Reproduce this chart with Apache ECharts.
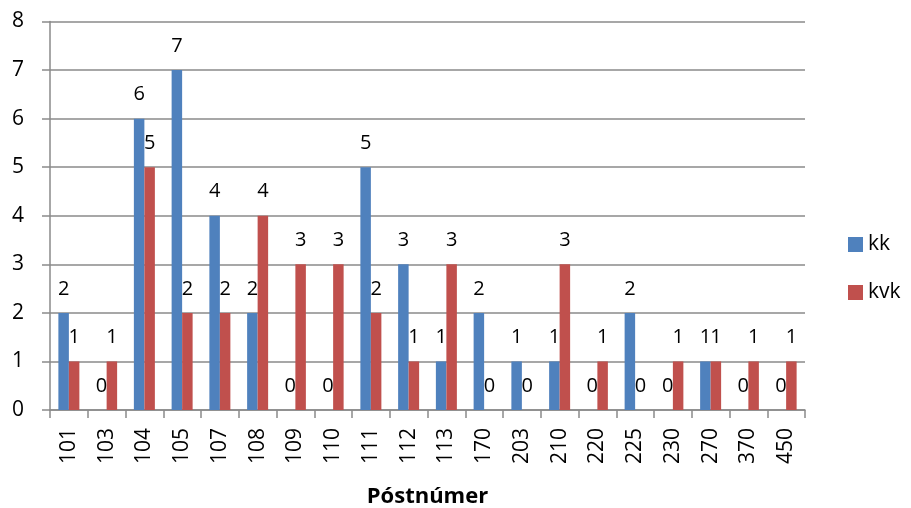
<!DOCTYPE html>
<html>
<head>
<meta charset="utf-8">
<script src="https://cdn.jsdelivr.net/npm/echarts@6/dist/echarts.min.js"></script>
<style>html,body{margin:0;padding:0;background:#fff}#c{width:911px;height:508px}</style>
</head>
<body>
<div id="c"></div>
<script>
var categories = ['101','103','104','105','107','108','109','110','111','112','113','170','203','210','220','225','230','270','370','450'];
var kk  = [2,0,6,7,4,2,0,0,5,3,1,2,1,1,0,2,0,1,0,0];
var kvk = [1,1,5,2,2,4,3,3,2,1,3,0,0,3,1,0,1,1,1,1];
var yTicks = [0,1,2,3,4,5,6,7,8];

var FONT = '"Open Sans", sans-serif';
var GRAY = '#8a8a8a';
var chart = echarts.init(document.getElementById('c'), null, {renderer:'canvas'});
var labelCfg = {show:true, position:'top', distance:14, color:'#000', fontSize:20, fontFamily:FONT};
chart.setOption({
  animation:false,
  textStyle:{fontFamily:FONT},
  grid:{left:50, right:106, top:21.5, bottom:98, containLabel:false, outerBoundsMode:'none'},
  legend:{
    orient:'vertical', left:843, top:229, itemWidth:15, itemHeight:15, itemGap:27,
    icon:'rect',
    textStyle:{fontSize:21, color:'#000', fontFamily:FONT},
    data:['kk','kvk']
  },
  xAxis:{
    type:'category', data:categories,
    name:'Póstnúmer', nameLocation:'middle', nameGap:76,
    nameTextStyle:{fontSize:22, fontWeight:'bold', color:'#000', fontFamily:FONT},
    axisLine:{lineStyle:{color:GRAY, width:1.5}},
    axisTick:{show:true, length:8, lineStyle:{color:GRAY, width:1.5}},
    axisLabel:{rotate:90, margin:18, fontSize:21, color:'#000', fontFamily:FONT, interval:0}
  },
  yAxis:{
    type:'value', min:yTicks[0], max:yTicks[yTicks.length-1], interval:1,
    axisLine:{show:true, lineStyle:{color:GRAY, width:1.5}},
    axisTick:{show:true, length:8, lineStyle:{color:GRAY, width:1.5}},
    splitLine:{show:true, lineStyle:{color:GRAY, width:1.5}},
    axisLabel:{margin:26, fontSize:21, color:'#000', fontFamily:FONT}
  },
  series:[
    {name:'kk', type:'bar', data:kk, barWidth:10.5, barGap:'0%', itemStyle:{color:'#4f81bd'}, label:labelCfg},
    {name:'kvk', type:'bar', data:kvk, barWidth:10.5, barGap:'0%', itemStyle:{color:'#c0504d'}, label:labelCfg}
  ]
});
</script>
</body>
</html>
